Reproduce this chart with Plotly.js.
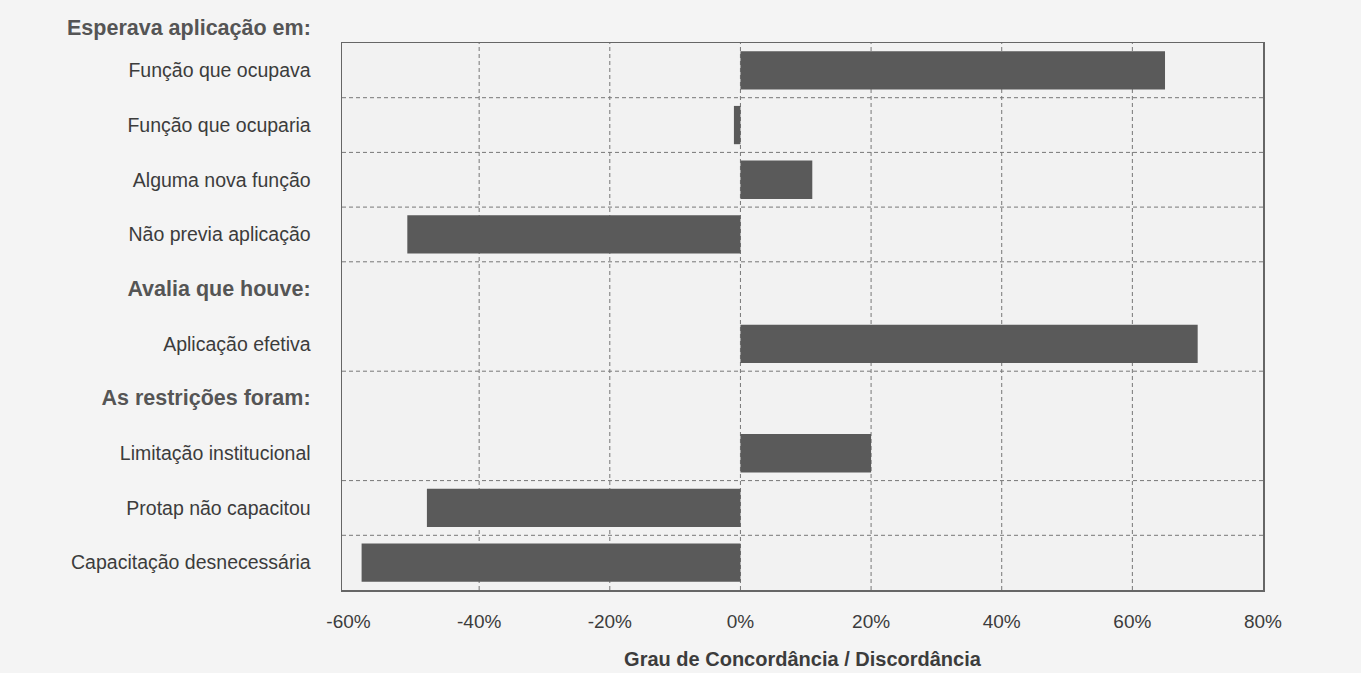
<!DOCTYPE html>
<html>
<head>
<meta charset="utf-8">
<script src="https://cdn.plot.ly/plotly-3.0.1.min.js"></script>
<style>html,body{margin:0;padding:0;background:#f4f4f4;}#chart{width:1361px;height:673px;}</style>
</head>
<body>
<div id="chart"></div>
<script>
// Row labels (top to bottom); header rows carry no bar
const categories = [
  "Função que ocupava",
  "Função que ocuparia",
  "Alguma nova função",
  "Não previa aplicação",
  "Avalia que houve:",
  "Aplicação efetiva",
  "As restrições foram:",
  "Limitação institucional",
  "Protap não capacitou",
  "Capacitação desnecessária"
];
const headerRows = ["Avalia que houve:", "As restrições foram:"];
const topHeader = "Esperava aplicação em:";
// Degree of agreement / disagreement (%)
const values = [65, -1, 11, -51, null, 70, null, 20, -48, -58];
const tickVals = [-60, -40, -20, 0, 20, 40, 60, 80];
const tickText = ["-60%", "-40%", "-20%", "0%", "20%", "40%", "60%", "80%"];
// Boundaries between rows where a dashed line is drawn (index of row above)
const separatorsAfter = [0, 1, 2, 3, 5, 7, 8];
const xTitle = "Grau de Concordância / Discordância";

const labelText = categories.map(c => headerRows.includes(c)
  ? '<span style="font-size:21.5px;font-weight:bold;color:#555">' + c + '</span>'
  : c);

const shapes = [];
separatorsAfter.forEach(i => {
  shapes.push({type: 'line', xref: 'paper', x0: 0, x1: 1, yref: 'y', y0: i + 0.5, y1: i + 0.5,
    line: {color: '#777', width: 1, dash: '4px,3px'}, layer: 'below'});
});
// vertical dashed gridlines
tickVals.slice(1, -1).forEach(v => {
  shapes.push({type: 'line', xref: 'x', x0: v, x1: v, yref: 'paper', y0: 0, y1: 1,
    line: {color: '#777', width: 1, dash: '4px,3px'}, layer: 'below'});
});

const trace = {
  type: 'bar', orientation: 'h',
  y: categories, x: values,
  width: 0.7,
  marker: {color: '#5a5a5a', line: {width: 0}},
  hoverinfo: 'x+y'
};

const layout = {
  width: 1361, height: 673,
  margin: {l: 342, r: 98, t: 43, b: 83},
  paper_bgcolor: '#f4f4f4',
  plot_bgcolor: '#f2f2f2',
  font: {family: 'Liberation Sans, Arial, sans-serif', color: '#3c3c3c', size: 19},
  showlegend: false,
  bargap: 0.3,
  xaxis: {
    range: [-61, 80],
    tickvals: tickVals, ticktext: tickText,
    showgrid: false, zeroline: false,
    showline: true, mirror: true, linecolor: '#666', linewidth: 1.5,
    ticks: 'outside', ticklen: 14, tickcolor: 'rgba(0,0,0,0)',
    tickfont: {size: 19, color: '#3c3c3c'},
    title: {text: '<b>' + xTitle + '</b>', font: {size: 20, color: '#3c3c3c'}, standoff: 20}
  },
  yaxis: {
    type: 'category',
    autorange: 'reversed',
    tickvals: categories, ticktext: labelText,
    showgrid: false, zeroline: false,
    showline: true, mirror: true, linecolor: '#666', linewidth: 1.5,
    ticks: 'outside', ticklen: 26, tickcolor: 'rgba(0,0,0,0)',
    tickfont: {size: 19.5, color: '#3c3c3c'}
  },
  shapes: shapes,
  annotations: [{
    text: '<b>' + topHeader + '</b>', xref: 'paper', yref: 'paper',
    x: -0.0315, y: 1, xanchor: 'right', yanchor: 'bottom', yshift: 1,
    showarrow: false, font: {size: 21.5, color: '#555'}
  }]
};

Plotly.newPlot('chart', [trace], layout, {displayModeBar: false, staticPlot: true});
</script>
</body>
</html>
